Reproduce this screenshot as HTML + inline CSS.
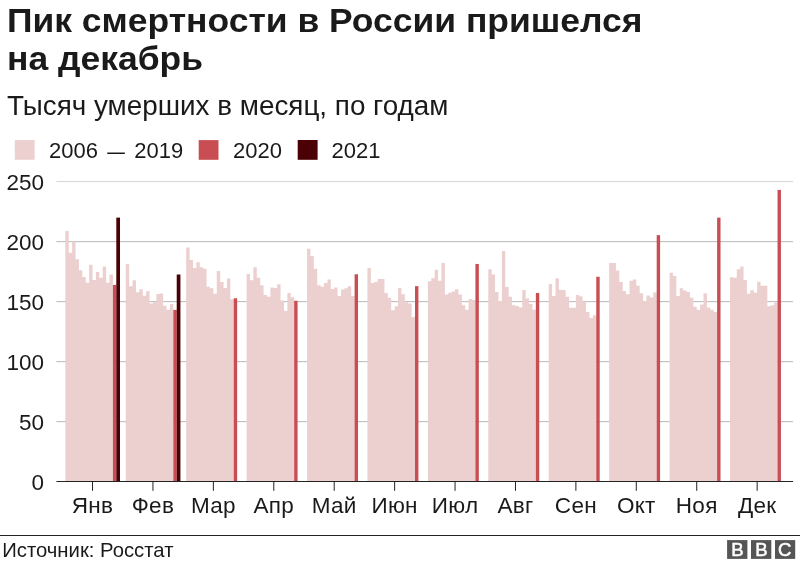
<!DOCTYPE html>
<html lang="ru"><head><meta charset="utf-8"><title>Пик смертности в России пришелся на декабрь</title>
<style>
html,body{margin:0;padding:0;background:#fff;}
body{width:800px;height:562px;position:relative;overflow:hidden;font-family:"Liberation Sans",sans-serif;color:#1a1a1a;}
.t{position:absolute;left:7.2px;white-space:nowrap;transform-origin:0 0;}
#title1,#title2{font-weight:bold;font-size:32.8px;line-height:38px;transform:scaleX(1.081);}
#title1{top:1.5px;} #title2{top:39.5px;}
#sub{left:7.1px;top:88.8px;font-size:27px;line-height:34px;transform:scaleX(1.031);}
.lg{position:absolute;top:140.2px;width:19.6px;height:19.6px;}
.lt{position:absolute;top:137.7px;font-size:22px;line-height:26px;white-space:nowrap;transform-origin:0 0;}
svg{position:absolute;left:0;top:0;}
.ax{font-family:"Liberation Sans",sans-serif;font-size:22.5px;fill:#1a1a1a;}
#rule{position:absolute;left:0;top:534.5px;width:800px;height:1px;background:#222;}
#src{position:absolute;left:2.2px;top:536.6px;font-size:20.3px;line-height:26px;white-space:nowrap;transform-origin:0 0;}
#bbc{position:absolute;left:727px;top:540px;}
</style></head><body>
<div class="t" id="title1">Пик смертности в России пришелся</div>
<div class="t" id="title2">на декабрь</div>
<div class="t" id="sub">Тысяч умерших в месяц, по годам</div>
<div class="lt" style="left:49px">2006 <span style="display:inline-block;margin:0 1px;transform:translateY(0.5px) scaleX(0.8)">—</span> 2019</div>
<div class="lt" style="left:233px">2020</div>
<div class="lt" style="left:331.6px">2021</div>
<svg width="800" height="562" viewBox="0 0 800 562">
<rect x="14.8" y="140.1" width="19.8" height="19.7" fill="#ecd0d0"/><rect x="198.7" y="140.1" width="19.8" height="19.7" fill="#c94e54"/><rect x="297.7" y="140.0" width="19.9" height="19.8" fill="#4a0005"/>
<g shape-rendering="auto">
<line x1="56.4" x2="793.1" y1="421.65" y2="421.65" stroke="#b8b8b8" stroke-width="1"/>
<line x1="56.4" x2="793.1" y1="361.65" y2="361.65" stroke="#b8b8b8" stroke-width="1"/>
<line x1="56.4" x2="793.1" y1="301.65" y2="301.65" stroke="#b8b8b8" stroke-width="1"/>
<line x1="56.4" x2="793.1" y1="241.65" y2="241.65" stroke="#b8b8b8" stroke-width="1"/>
<line x1="56.4" x2="793.1" y1="181.55" y2="181.55" stroke="#d6d6d6" stroke-width="1"/>
<path d="M65.35 481.5V231.06H68.75V252.78H72.14V241.38H75.54V259.14H78.94V270.18H82.33V276.90H85.73V282.78H89.13V264.78H92.53V279.90H95.92V271.98H99.32V277.86H102.72V266.58H106.11V282.66H109.51V274.62H112.91V481.5Z" fill="#ecd0d0"/>
<rect x="112.91" y="284.94" width="3.40" height="196.56" fill="#c94e54"/>
<rect x="116.30" y="217.62" width="3.70" height="263.88" fill="#4a0005"/>
<path d="M125.77 481.5V264.00H129.17V286.26H132.56V280.26H135.96V292.26H139.36V289.14H142.75V295.86H146.15V291.30H149.55V303.54H152.95V302.22H156.34V294.06H159.74V293.58H163.14V305.70H166.53V309.78H169.93V303.90H173.33V481.5Z" fill="#ecd0d0"/>
<rect x="173.33" y="309.90" width="3.40" height="171.60" fill="#c94e54"/>
<rect x="176.72" y="274.50" width="3.70" height="207.00" fill="#4a0005"/>
<path d="M186.19 481.5V247.62H189.59V259.98H192.98V268.02H196.38V262.14H199.78V267.18H203.18V268.74H206.57V286.74H209.97V288.30H213.37V293.82H216.76V271.02H220.16V282.06H223.56V287.94H226.95V278.58H230.35V299.22H233.75V481.5Z" fill="#ecd0d0"/>
<rect x="233.75" y="298.26" width="3.40" height="183.24" fill="#c94e54"/>
<path d="M246.61 481.5V274.02H250.01V280.26H253.40V267.18H256.80V277.86H260.20V285.30H263.59V295.02H266.99V296.82H270.39V287.46H273.79V287.94H277.18V284.34H280.58V300.42H283.98V311.10H287.37V292.98H290.77V297.18H294.17V481.5Z" fill="#ecd0d0"/>
<rect x="294.17" y="300.78" width="3.40" height="180.72" fill="#c94e54"/>
<path d="M307.03 481.5V248.82H310.43V255.90H313.82V268.74H317.22V285.30H320.62V286.74H324.01V283.02H327.41V279.42H330.81V288.90H334.21V287.58H337.60V295.98H341.00V289.38H344.40V288.30H347.79V286.14H351.19V295.98H354.59V481.5Z" fill="#ecd0d0"/>
<rect x="354.59" y="274.26" width="3.40" height="207.24" fill="#c94e54"/>
<path d="M367.45 481.5V268.02H370.85V283.02H374.24V282.06H377.64V279.06H381.04V279.06H384.44V292.98H387.83V297.78H391.23V310.14H394.63V306.30H398.02V287.94H401.42V294.18H404.82V302.22H408.21V303.42H411.61V316.98H415.01V481.5Z" fill="#ecd0d0"/>
<rect x="415.01" y="286.14" width="3.40" height="195.36" fill="#c94e54"/>
<path d="M427.87 481.5V281.22H431.27V278.22H434.66V269.82H438.06V280.86H441.46V263.10H444.86V294.54H448.25V292.74H451.65V291.54H455.05V289.14H458.44V294.54H461.84V305.22H465.24V309.78H468.63V298.98H472.03V300.06H475.43V481.5Z" fill="#ecd0d0"/>
<rect x="475.43" y="263.94" width="3.40" height="217.56" fill="#c94e54"/>
<path d="M488.29 481.5V269.22H491.69V274.62H495.08V291.90H498.48V300.90H501.88V251.10H505.27V287.10H508.67V296.82H512.07V305.34H515.47V306.06H518.86V307.50H522.26V290.10H525.66V298.62H529.05V304.02H532.45V309.66H535.85V481.5Z" fill="#ecd0d0"/>
<rect x="535.85" y="292.98" width="3.40" height="188.52" fill="#c94e54"/>
<path d="M548.71 481.5V283.98H552.11V295.98H555.50V278.22H558.90V289.74H562.30V290.10H565.70V296.82H569.09V307.86H572.49V307.86H575.89V295.02H579.28V296.34H582.68V301.62H586.08V311.94H589.47V318.06H592.87V315.30H596.27V481.5Z" fill="#ecd0d0"/>
<rect x="596.27" y="276.78" width="3.40" height="204.72" fill="#c94e54"/>
<path d="M609.13 481.5V263.10H612.53V263.10H615.92V270.54H619.32V282.06H622.72V290.94H626.12V294.18H629.51V280.86H632.91V279.42H636.31V285.78H639.70V293.34H643.10V300.90H646.50V295.62H649.89V297.42H653.29V292.38H656.69V481.5Z" fill="#ecd0d0"/>
<rect x="656.69" y="235.14" width="3.40" height="246.36" fill="#c94e54"/>
<path d="M669.55 481.5V272.82H672.95V276.06H676.34V295.98H679.74V288.30H683.14V290.58H686.54V291.90H689.93V297.78H693.33V306.66H696.73V309.78H700.12V304.50H703.52V293.34H706.92V307.50H710.31V309.66H713.71V311.94H717.11V481.5Z" fill="#ecd0d0"/>
<rect x="717.11" y="217.62" width="3.40" height="263.88" fill="#c94e54"/>
<path d="M729.97 481.5V277.26H733.37V277.86H736.76V269.22H740.16V266.58H743.56V279.90H746.96V293.82H750.35V290.22H753.75V292.74H757.15V281.70H760.54V285.78H763.94V285.78H767.34V306.30H770.73V305.22H774.13V302.58H777.53V481.5Z" fill="#ecd0d0"/>
<rect x="777.53" y="189.90" width="3.40" height="291.60" fill="#c94e54"/>
<line x1="56.4" x2="793.1" y1="481.5" y2="481.5" stroke="#222" stroke-width="1"/>
<line x1="92.53" x2="92.53" y1="481.5" y2="490.8" stroke="#222" stroke-width="1"/>
<line x1="152.95" x2="152.95" y1="481.5" y2="490.8" stroke="#222" stroke-width="1"/>
<line x1="213.37" x2="213.37" y1="481.5" y2="490.8" stroke="#222" stroke-width="1"/>
<line x1="273.79" x2="273.79" y1="481.5" y2="490.8" stroke="#222" stroke-width="1"/>
<line x1="334.21" x2="334.21" y1="481.5" y2="490.8" stroke="#222" stroke-width="1"/>
<line x1="394.63" x2="394.63" y1="481.5" y2="490.8" stroke="#222" stroke-width="1"/>
<line x1="455.05" x2="455.05" y1="481.5" y2="490.8" stroke="#222" stroke-width="1"/>
<line x1="515.47" x2="515.47" y1="481.5" y2="490.8" stroke="#222" stroke-width="1"/>
<line x1="575.89" x2="575.89" y1="481.5" y2="490.8" stroke="#222" stroke-width="1"/>
<line x1="636.31" x2="636.31" y1="481.5" y2="490.8" stroke="#222" stroke-width="1"/>
<line x1="696.73" x2="696.73" y1="481.5" y2="490.8" stroke="#222" stroke-width="1"/>
<line x1="757.15" x2="757.15" y1="481.5" y2="490.8" stroke="#222" stroke-width="1"/>
</g>
<text x="44" y="489.5" text-anchor="end" class="ax">0</text>
<text x="44" y="429.5" text-anchor="end" class="ax">50</text>
<text x="44" y="369.5" text-anchor="end" class="ax">100</text>
<text x="44" y="309.5" text-anchor="end" class="ax">150</text>
<text x="44" y="249.5" text-anchor="end" class="ax">200</text>
<text x="44" y="189.5" text-anchor="end" class="ax">250</text>
<text x="92.53" y="513.4" text-anchor="middle" class="ax" letter-spacing="0.3">Янв</text>
<text x="152.95" y="513.4" text-anchor="middle" class="ax" letter-spacing="0.3">Фев</text>
<text x="213.37" y="513.4" text-anchor="middle" class="ax" letter-spacing="0.3">Мар</text>
<text x="273.79" y="513.4" text-anchor="middle" class="ax" letter-spacing="0.3">Апр</text>
<text x="334.21" y="513.4" text-anchor="middle" class="ax" letter-spacing="0.3">Май</text>
<text x="394.63" y="513.4" text-anchor="middle" class="ax" letter-spacing="0.3">Июн</text>
<text x="455.05" y="513.4" text-anchor="middle" class="ax" letter-spacing="0.3">Июл</text>
<text x="515.47" y="513.4" text-anchor="middle" class="ax" letter-spacing="0.3">Авг</text>
<text x="575.89" y="513.4" text-anchor="middle" class="ax" letter-spacing="0.3">Сен</text>
<text x="636.31" y="513.4" text-anchor="middle" class="ax" letter-spacing="0.3">Окт</text>
<text x="696.73" y="513.4" text-anchor="middle" class="ax" letter-spacing="0.3">Ноя</text>
<text x="757.15" y="513.4" text-anchor="middle" class="ax" letter-spacing="0.3">Дек</text>
</svg>
<div id="rule"></div>
<div id="src">Источник: Росстат</div>
<svg id="bbc" width="70" height="20" viewBox="0 0 70 20">
<rect x="0.1" y="0.1" width="20.3" height="18.8" fill="#555"/><rect x="24" y="0.1" width="20.3" height="18.8" fill="#555"/><rect x="48" y="0.1" width="20.2" height="18.8" fill="#555"/>
<g font-family="Liberation Sans, sans-serif" font-size="18.6" fill="#fff" stroke="#fff" stroke-width="0.5" text-anchor="middle">
<text x="10.5" y="16.1">B</text>
<text x="34.4" y="16.1">B</text>
<text x="57.8" y="16.1">C</text>
</g>
</svg>
</body></html>
